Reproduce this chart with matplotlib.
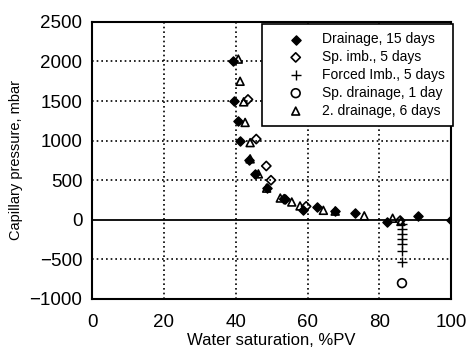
import matplotlib.pyplot as plt

plt.rcParams['font.family'] = ['Liberation Sans', 'DejaVu Sans']

# Drainage, 15 days
drain_x = [39.3, 39.6, 40.6, 41.2, 43.8, 45.4, 48.6, 53.8, 58.7, 62.6, 67.7, 73.3, 82.1, 90.9, 100]
drain_y = [2000, 1500, 1250, 1000, 750, 580, 400, 260, 120, 160, 110, 90, -30, 50, 0]

# Sp. imb., 5 days
imb_x = [43.4, 45.7, 48.5, 49.8, 53.5, 59.6, 85.8]
imb_y = [1520, 1020, 680, 500, 260, 170, -10]

# Forced Imb., 5 days
forced_x = [86.3, 86.3, 86.3, 86.3, 86.3, 86.3, 86.3]
forced_y = [-50, -110, -180, -240, -300, -390, -530]

# Sp. drainage, 1 day
spdrain_x = [86.3]
spdrain_y = [-800]

# 2. drainage, 6 days
drain2_x = [40.7, 41.2, 42.2, 42.6, 44.0, 44.0, 46.3, 48.6, 52.4, 55.6, 57.9, 64.4, 67.7, 75.8, 83.7, 86.0]
drain2_y = [2030, 1750, 1490, 1230, 975, 770, 580, 400, 275, 225, 175, 120, 110, 50, 20, -20]

fig = plt.figure(figsize=(4.68, 3.53), dpi=100)
ax = fig.add_axes([0.197, 0.153, 0.767, 0.785])

ax.scatter(drain_x, drain_y, marker='D', s=22, color='black', label='Drainage, 15 days', zorder=3)
ax.scatter(imb_x, imb_y, marker='D', s=22, facecolors='none', edgecolors='black', linewidths=1.2,
           label='Sp. imb., 5 days', zorder=3)
ax.scatter(forced_x, forced_y, marker='+', s=45, color='black', linewidths=1.0,
           label='Forced Imb., 5 days', zorder=3)
ax.scatter(spdrain_x, spdrain_y, marker='o', s=40, facecolors='none', edgecolors='black', linewidths=1.2,
           label='Sp. drainage, 1 day', zorder=3)
ax.scatter(drain2_x, drain2_y, marker='^', s=32, facecolors='none', edgecolors='black', linewidths=1.2,
           label='2. drainage, 6 days', zorder=3)

ax.set_xlim(0, 100)
ax.set_ylim(-1000, 2500)
ax.set_xticks([0, 20, 40, 60, 80, 100])
ax.set_yticks([-1000, -500, 0, 500, 1000, 1500, 2000, 2500])

for v in [20, 40, 60, 80]:
    ax.axvline(v, color='black', linestyle=(0, (1, 1.8)), linewidth=1.2, zorder=1)
for v in [-500, 500, 1000, 1500, 2000]:
    ax.axhline(v, color='black', linestyle=(0, (1, 1.8)), linewidth=1.2, zorder=1)
ax.axhline(0, color='black', linewidth=1.3, zorder=1)

for s in ax.spines.values():
    s.set_linewidth(1.5)
ax.tick_params(length=0, labelsize=13.5)
ax.tick_params(axis='x', pad=11)
ax.tick_params(axis='y', pad=7)

ax.set_xlabel('Water saturation, %PV', fontsize=12, labelpad=1)
ax.set_ylabel('Capillary pressure, mbar', fontsize=10.5, labelpad=5)

leg = ax.legend(loc='upper right', bbox_to_anchor=(1.006, 0.993), borderaxespad=0, fancybox=False,
                edgecolor='black', framealpha=1, fontsize=10, handletextpad=0.1, labelspacing=0.28,
                borderpad=0.6, handlelength=3.6)
leg.get_frame().set_linewidth(1.2)

plt.savefig('out.png', dpi=100)
